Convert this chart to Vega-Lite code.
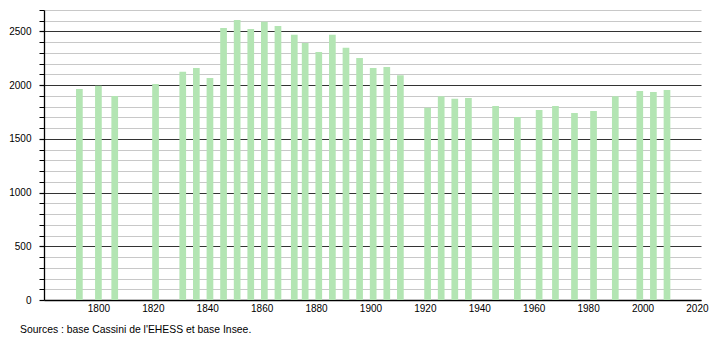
{
  "$schema": "https://vega.github.io/schema/vega-lite/v6.json",
  "autosize": "none",
  "width": 657,
  "height": 290,
  "padding": {"left": 44, "top": 10, "right": 9, "bottom": 40},
  "background": "white",
  "config": {
    "view": {"stroke": null},
    "font": "Liberation Sans",
    "axis": {"labelFont": "Liberation Sans", "labelFontSize": 10, "labelColor": "#000"}
  },
  "title": {
    "text": "Sources : base Cassini de l'EHESS et base Insee.",
    "orient": "bottom",
    "anchor": "start",
    "frame": "group",
    "font": "Liberation Sans",
    "fontSize": 10.4,
    "fontWeight": "normal",
    "color": "#000",
    "offset": 12,
    "dx": -24
  },
  "data": {
    "values": [
      {"year": 1793, "population": 1965},
      {"year": 1800, "population": 1995},
      {"year": 1806, "population": 1900},
      {"year": 1821, "population": 2010},
      {"year": 1831, "population": 2125},
      {"year": 1836, "population": 2160},
      {"year": 1841, "population": 2067},
      {"year": 1846, "population": 2532},
      {"year": 1851, "population": 2607},
      {"year": 1856, "population": 2523},
      {"year": 1861, "population": 2591},
      {"year": 1866, "population": 2551},
      {"year": 1872, "population": 2470},
      {"year": 1876, "population": 2393},
      {"year": 1881, "population": 2309},
      {"year": 1886, "population": 2470},
      {"year": 1891, "population": 2349},
      {"year": 1896, "population": 2253},
      {"year": 1901, "population": 2160},
      {"year": 1906, "population": 2169},
      {"year": 1911, "population": 2092},
      {"year": 1921, "population": 1790},
      {"year": 1926, "population": 1896},
      {"year": 1931, "population": 1874},
      {"year": 1936, "population": 1881},
      {"year": 1946, "population": 1806},
      {"year": 1954, "population": 1704},
      {"year": 1962, "population": 1769},
      {"year": 1968, "population": 1806},
      {"year": 1975, "population": 1741},
      {"year": 1982, "population": 1760},
      {"year": 1990, "population": 1896},
      {"year": 1999, "population": 1946},
      {"year": 2004, "population": 1937},
      {"year": 2009, "population": 1955}
    ]
  },
  "mark": {"type": "bar", "color": "#b3e5b3", "width": 6.7},
  "encoding": {
    "x": {
      "field": "year",
      "type": "quantitative",
      "scale": {"domain": [1780, 2021.5], "nice": false, "zero": false, "padding": 0},
      "axis": {
        "title": null,
        "values": [1800, 1820, 1840, 1860, 1880, 1900, 1920, 1940, 1960, 1980, 2000, 2020],
        "format": "d",
        "grid": false,
        "ticks": false,
        "labelPadding": 3,
        "domainColor": "#000",
        "domainWidth": 1.3,
        "labelFlush": false,
        "labelOverlap": false
      }
    },
    "y": {
      "field": "population",
      "type": "quantitative",
      "scale": {"domain": [0, 2700], "nice": false},
      "axis": {
        "title": null,
        "values": [0, 100, 200, 300, 400, 500, 600, 700, 800, 900, 1000, 1100, 1200, 1300, 1400, 1500, 1600, 1700, 1800, 1900, 2000, 2100, 2200, 2300, 2400, 2500, 2600, 2700],
        "labelExpr": "datum.value % 500 === 0 ? datum.value : ''",
        "grid": true,
        "gridColor": {"condition": {"test": "datum.value % 500 === 0", "value": "#333333"}, "value": "#c8c8c8"},
        "gridWidth": 1.2,
        "tickSize": 5,
        "tickWidth": {"condition": {"test": "datum.value % 500 === 0", "value": 1.2}, "value": 1},
        "tickColor": "#000",
        "domainColor": "#000",
        "domainWidth": 1.3,
        "labelPadding": 8,
        "labelFlush": false,
        "labelOverlap": false
      }
    }
  }
}
